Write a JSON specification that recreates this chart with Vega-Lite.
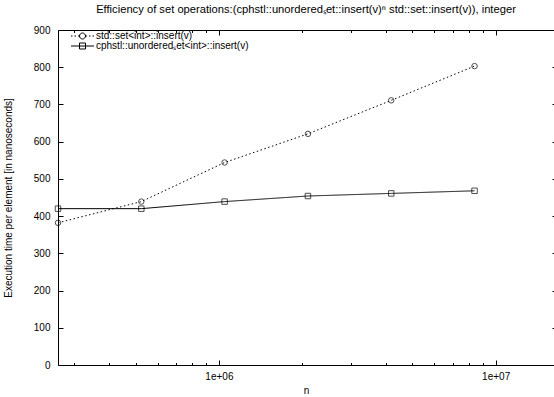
{
  "$schema": "https://vega.github.io/schema/vega-lite/v6.json",
  "width": 496,
  "height": 335,
  "autosize": {"type": "none"},
  "padding": {"left": 58, "top": 30, "right": 0, "bottom": 32},
  "background": "white",
  "title": {
    "text": "Efficiency of set operations:(cphstl::unorderedₛet::insert(v)ⁿ std::set::insert(v)), integer",
    "fontSize": 11.2,
    "fontWeight": "normal",
    "font": "Liberation Sans",
    "color": "black",
    "anchor": "middle",
    "frame": "group",
    "baseline": "alphabetic",
    "offset": 1
  },
  "config": {
    "view": {"stroke": null},
    "font": "Liberation Sans",
    "axis": {
      "grid": false,
      "domainColor": "black",
      "tickColor": "black",
      "labelColor": "black",
      "titleColor": "black",
      "labelFontSize": 10,
      "titleFontSize": 10,
      "titleFontWeight": "normal",
      "labelFlush": false,
      "labelOverlap": false,
      "tickWidth": 1,
      "domainWidth": 1
    }
  },
  "data": {
    "values": [
      {"n": 262144, "time": 382, "series": "std::set<int>::insert(v)"},
      {"n": 524288, "time": 439, "series": "std::set<int>::insert(v)"},
      {"n": 1048576, "time": 544, "series": "std::set<int>::insert(v)"},
      {"n": 2097152, "time": 621, "series": "std::set<int>::insert(v)"},
      {"n": 4194304, "time": 711, "series": "std::set<int>::insert(v)"},
      {"n": 8388608, "time": 803, "series": "std::set<int>::insert(v)"},
      {"n": 262144, "time": 420, "series": "cphstl::unorderedₛet<int>::insert(v)"},
      {"n": 524288, "time": 420, "series": "cphstl::unorderedₛet<int>::insert(v)"},
      {"n": 1048576, "time": 439, "series": "cphstl::unorderedₛet<int>::insert(v)"},
      {"n": 2097152, "time": 454, "series": "cphstl::unorderedₛet<int>::insert(v)"},
      {"n": 4194304, "time": 461, "series": "cphstl::unorderedₛet<int>::insert(v)"},
      {"n": 8388608, "time": 468, "series": "cphstl::unorderedₛet<int>::insert(v)"}
    ]
  },
  "resolve": {"axis": {"x": "independent", "y": "independent"}, "scale": {"shape": "independent"}, "legend": {"shape": "independent"}},
  "layer": [
    {
      "mark": {"type": "line", "color": "black", "strokeWidth": 1},
      "encoding": {
        "x": {
          "field": "n", "type": "quantitative",
          "scale": {"type": "log", "domain": [262144, 16250000], "nice": false},
          "axis": {
            "orient": "bottom",
            "values": [1000000, 10000000],
            "tickSize": -5,
            "labelExpr": "datum.value < 5000000 ? '1e+06' : '1e+07'",
            "labelPadding": 11,
            "labelBaseline": "top",
            "title": "n",
            "titleY": 28,
            "titleBaseline": "alphabetic"
          }
        },
        "y": {
          "field": "time", "type": "quantitative",
          "scale": {"domain": [0, 900], "nice": false},
          "axis": {
            "orient": "left",
            "values": [0, 100, 200, 300, 400, 500, 600, 700, 800, 900],
            "tickSize": -5,
            "labelPadding": 13,
            "title": "Execution time per element [in nanoseconds]",
            "titleX": -49.5,
            "titleBaseline": "middle"
          }
        },
        "strokeDash": {
          "field": "series", "type": "nominal",
          "scale": {
            "domain": ["cphstl::unorderedₛet<int>::insert(v)", "std::set<int>::insert(v)"],
            "range": [[1, 0], [1.5, 2.5]]
          },
          "legend": null
        }
      }
    },
    {
      "mark": {"type": "point", "color": "black", "filled": false, "size": 30, "strokeWidth": 1},
      "encoding": {
        "x": {
          "field": "n", "type": "quantitative",
          "axis": {
            "orient": "bottom",
            "values": [300000, 400000, 500000, 600000, 700000, 800000, 900000, 2000000, 3000000, 4000000, 5000000, 6000000, 7000000, 8000000, 9000000],
            "tickSize": -2.5,
            "labels": false,
            "domain": false,
            "title": null
          }
        },
        "y": {
          "field": "time", "type": "quantitative",
          "axis": {
            "orient": "right",
            "values": [0, 100, 200, 300, 400, 500, 600, 700, 800, 900],
            "tickSize": -2,
            "labels": false,
            "domain": false,
            "title": null
          }
        },
        "shape": {
          "field": "series", "type": "nominal",
          "scale": {
            "domain": ["cphstl::unorderedₛet<int>::insert(v)", "std::set<int>::insert(v)"],
            "range": ["square", "circle"]
          },
          "legend": null
        }
      }
    },
    {
      "mark": {"type": "point", "opacity": 0},
      "encoding": {
        "x": {
          "field": "n", "type": "quantitative",
          "axis": {
            "orient": "top",
            "values": [1000000, 10000000],
            "tickSize": -5,
            "labels": false,
            "domain": true,
            "title": null
          }
        },
        "y": {"field": "time", "type": "quantitative", "axis": null}
      }
    },
    {
      "mark": {"type": "point", "opacity": 0},
      "encoding": {
        "x": {
          "field": "n", "type": "quantitative",
          "axis": {
            "orient": "top",
            "values": [300000, 400000, 500000, 600000, 700000, 800000, 900000, 2000000, 3000000, 4000000, 5000000, 6000000, 7000000, 8000000, 9000000],
            "tickSize": -2.5,
            "labels": false,
            "domain": false,
            "title": null
          }
        },
        "y": {"field": "time", "type": "quantitative", "axis": null}
      }
    },
    {
      "mark": {"type": "point", "color": "black", "filled": false, "opacity": 0, "strokeWidth": 1},
      "encoding": {
        "x": {"field": "n", "type": "quantitative", "axis": null},
        "y": {"field": "time", "type": "quantitative", "axis": null},
        "shape": {
          "field": "series", "type": "nominal",
          "scale": {
            "domain": ["std::set<int>::insert(v)", "cphstl::unorderedₛet<int>::insert(v)"],
            "range": [
              "M-2.875,0h0.375M-2,0h0.375M-1.125,0h0.375M0.75,0h0.375M1.625,0h0.375M2.5,0h0.375M-0.75,0A0.75,0.75,0,1,1,0.75,0A0.75,0.75,0,1,1,-0.75,0",
              "M-2.875,0H2.875M-0.75,-0.75H0.75V0.75H-0.75Z"
            ]
          },
          "legend": {
            "title": null,
            "orient": "none",
            "legendX": 19.5,
            "legendY": 1,
            "padding": 0,
            "symbolSize": 64,
            "symbolOpacity": 1,
            "symbolStrokeWidth": 1,
            "symbolStrokeColor": "black",
            "symbolFillColor": "transparent",
            "labelFontSize": 10,
            "labelFont": "Liberation Sans",
            "labelColor": "black",
            "labelOffset": 8.5,
            "labelLimit": 400,
            "rowPadding": -1.5
          }
        }
      }
    }
  ]
}
